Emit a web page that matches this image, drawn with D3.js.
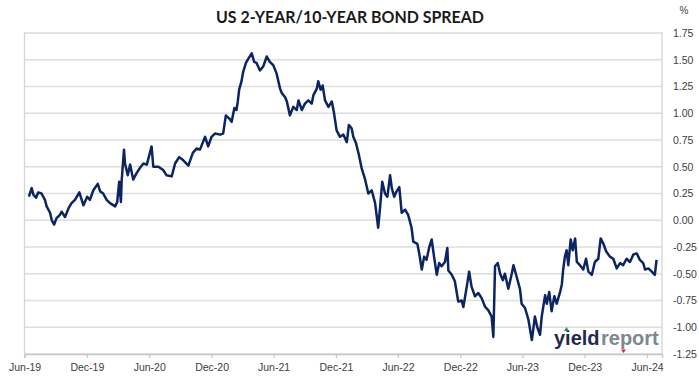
<!DOCTYPE html>
<html>
<head>
<meta charset="utf-8">
<script src="https://cdn.jsdelivr.net/npm/d3@7"></script>
<style>
  body { margin: 0; background: #fff; }
  svg { display: block; }
</style>
</head>
<body>
<svg id="spread_chart" width="699" height="385"></svg>
<script>
// values
const dates = [
  "2019-06-14","2019-06-22","2019-06-27","2019-07-05","2019-07-11","2019-07-21","2019-07-31","2019-08-05","2019-08-15","2019-08-20",
  "2019-08-27","2019-09-03","2019-09-13","2019-09-18","2019-09-28","2019-10-08","2019-10-17","2019-10-27","2019-11-09","2019-11-21",
  "2019-12-02","2019-12-10","2019-12-20","2020-01-02","2020-01-09","2020-01-18","2020-01-28","2020-02-07","2020-02-22","2020-02-28",
  "2020-03-05","2020-03-10","2020-03-12","2020-03-19","2020-03-22","2020-03-30","2020-04-06","2020-04-15","2020-04-25","2020-05-05",
  "2020-05-15","2020-05-25","2020-06-08","2020-06-13","2020-06-28","2020-07-12","2020-07-22","2020-08-06","2020-08-16","2020-08-28",
  "2020-09-09","2020-09-24","2020-10-07","2020-10-18","2020-10-28","2020-11-12","2020-11-21","2020-12-01","2020-12-11","2020-12-26",
  "2021-01-04","2021-01-12","2021-01-22","2021-01-29","2021-02-06","2021-02-12","2021-02-16","2021-02-20","2021-02-27","2021-03-04",
  "2021-03-12","2021-03-19","2021-03-29","2021-04-05","2021-04-12","2021-04-22","2021-05-02","2021-05-12","2021-05-21","2021-05-31",
  "2021-06-10","2021-06-20","2021-06-25","2021-07-05","2021-07-10","2021-07-19","2021-07-29","2021-08-08","2021-08-13","2021-08-23",
  "2021-09-01","2021-09-11","2021-09-21","2021-09-26","2021-10-06","2021-10-10","2021-10-17","2021-10-23","2021-10-30","2021-11-09",
  "2021-11-19","2021-11-25","2021-12-03","2021-12-13","2021-12-23","2022-01-02","2022-01-08","2022-01-16","2022-01-21","2022-01-29",
  "2022-02-05","2022-02-15","2022-02-24","2022-03-06","2022-03-16","2022-03-26","2022-04-04","2022-04-09","2022-04-16","2022-04-24",
  "2022-05-01","2022-05-09","2022-05-14","2022-05-21","2022-05-28","2022-06-05","2022-06-12","2022-06-22","2022-07-01","2022-07-11",
  "2022-07-16","2022-07-28","2022-08-03","2022-08-10","2022-08-17","2022-08-24","2022-09-01","2022-09-08","2022-09-15","2022-09-23",
  "2022-09-30","2022-10-07","2022-10-17","2022-10-24","2022-10-27","2022-11-06","2022-11-15","2022-11-25","2022-12-05","2022-12-10",
  "2022-12-20","2022-12-27","2023-01-03","2023-01-13","2023-01-23","2023-02-02","2023-02-12","2023-02-21","2023-03-03","2023-03-08",
  "2023-03-13","2023-03-21","2023-03-28","2023-04-05","2023-04-11","2023-04-21","2023-05-01","2023-05-06","2023-05-13","2023-05-25",
  "2023-05-30","2023-06-09","2023-06-19","2023-06-29","2023-07-08","2023-07-15","2023-07-23","2023-07-28","2023-08-07","2023-08-12",
  "2023-08-19","2023-08-26","2023-09-03","2023-09-10","2023-09-20","2023-09-25","2023-09-29","2023-10-04","2023-10-09","2023-10-14",
  "2023-10-21","2023-10-27","2023-11-03","2023-11-08","2023-11-17","2023-11-27","2023-12-05","2023-12-12","2023-12-22","2023-12-31",
  "2024-01-10","2024-01-17","2024-01-25","2024-02-02","2024-02-13","2024-02-23","2024-03-04","2024-03-14","2024-03-23","2024-04-02",
  "2024-04-12","2024-04-22","2024-05-02","2024-05-11","2024-05-21","2024-05-26","2024-06-05","2024-06-15","2024-06-24","2024-06-29"
];
const spread = [
  0.22, 0.30, 0.24, 0.21, 0.26, 0.25, 0.19, 0.13, 0.07, 0.00,
  -0.04, 0.02, 0.05, 0.08, 0.03, 0.11, 0.16, 0.19, 0.26, 0.14,
  0.22, 0.19, 0.28, 0.34, 0.27, 0.25, 0.19, 0.16, 0.13, 0.17,
  0.36, 0.17, 0.36, 0.66, 0.53, 0.42, 0.52, 0.38, 0.44, 0.49,
  0.53, 0.52, 0.69, 0.50, 0.50, 0.47, 0.42, 0.41, 0.53, 0.59,
  0.56, 0.51, 0.63, 0.67, 0.66, 0.78, 0.69, 0.78, 0.81, 0.80,
  0.81, 0.98, 0.95, 0.92, 1.05, 1.03, 1.11, 1.22, 1.30, 1.39,
  1.47, 1.51, 1.56, 1.48, 1.47, 1.40, 1.44, 1.53, 1.48, 1.45,
  1.37, 1.23, 1.19, 1.15, 1.11, 0.98, 1.06, 1.03, 1.12, 1.03,
  1.09, 1.12, 1.09, 1.17, 1.23, 1.30, 1.22, 1.26, 1.12, 1.06,
  1.11, 1.01, 0.84, 0.78, 0.80, 0.73, 0.89, 0.86, 0.78, 0.72,
  0.63, 0.48, 0.39, 0.25, 0.28, 0.16, -0.07, 0.10, 0.36, 0.25,
  0.22, 0.42, 0.30, 0.22, 0.27, 0.31, 0.07, 0.10, 0.05, -0.07,
  -0.20, -0.22, -0.32, -0.46, -0.34, -0.37, -0.25, -0.18, -0.34, -0.51,
  -0.40, -0.43, -0.39, -0.26, -0.47, -0.51, -0.57, -0.76, -0.75, -0.81,
  -0.62, -0.48, -0.62, -0.71, -0.68, -0.73, -0.81, -0.84, -0.90, -1.09,
  -0.43, -0.40, -0.50, -0.56, -0.50, -0.64, -0.50, -0.42, -0.50, -0.64,
  -0.78, -0.82, -0.93, -1.12, -0.90, -1.00, -1.07, -0.90, -0.70, -0.78,
  -0.67, -0.85, -0.71, -0.78, -0.67, -0.60, -0.46, -0.34, -0.28, -0.42,
  -0.18, -0.28, -0.17, -0.39, -0.42, -0.46, -0.36, -0.48, -0.51, -0.39,
  -0.36, -0.17, -0.22, -0.29, -0.34, -0.36, -0.45, -0.40, -0.42, -0.36,
  -0.39, -0.32, -0.31, -0.37, -0.40, -0.46, -0.45, -0.48, -0.51, -0.37
];
const yTicks = [1.75, 1.50, 1.25, 1.00, 0.75, 0.50, 0.25, 0.00, -0.25, -0.50, -0.75, -1.00, -1.25];
const xTickDates = ["2019-06-01","2019-12-01","2020-06-01","2020-12-01","2021-06-01","2021-12-01",
                    "2022-06-01","2022-12-01","2023-06-01","2023-12-01","2024-06-01"];
const xDomain = ["2019-06-01", "2024-07-15"];

let chart_svg, chart_width, chart_height, chart_margin, chart_innerWidth, chart_innerHeight;

document.addEventListener('DOMContentLoaded', function() {
    chart_svg = d3.select('#spread_chart');
    chart_width = +chart_svg.attr('width');
    chart_height = +chart_svg.attr('height');
    chart_margin = { top: 33, bottom: 31, right: 37, left: 24.5 };
    chart_innerWidth = chart_width - chart_margin.left - chart_margin.right;
    chart_innerHeight = chart_height - chart_margin.top - chart_margin.bottom;
    draw_spread_chart();
});

function draw_spread_chart() {
    const parse = d3.timeParse("%Y-%m-%d");
    const data = dates.map((d, i) => ({ date: parse(d), value: spread[i] }));
    const fmt = d3.formatLocale({ decimal: ".", thousands: ",", grouping: [3], currency: ["", ""], minus: "-" }).format(".2f");
    const labelFont = "'Liberation Sans', Arial, sans-serif";

    const xScale = d3.scaleTime()
        .domain(xDomain.map(parse))
        .range([0, chart_innerWidth]);
    const yScale = d3.scaleLinear()
        .domain([-1.25, 1.75])
        .range([chart_innerHeight, 0]);

    const g = chart_svg.append('g')
        .attr('transform', 'translate(' + chart_margin.left + ', ' + chart_margin.top + ')');

    // horizontal gridlines
    g.append('g')
        .selectAll('line')
        .data(yTicks.filter(t => t < 1.75 && t > -1.25))
        .enter()
        .append('line')
        .attr('x1', 0)
        .attr('x2', chart_innerWidth)
        .attr('y1', d => yScale(d))
        .attr('y2', d => yScale(d))
        .attr('stroke', '#dedede')
        .attr('stroke-width', 1.3);

    // plot frame
    g.append('rect')
        .attr('x', 0)
        .attr('y', 0)
        .attr('width', chart_innerWidth)
        .attr('height', chart_innerHeight)
        .attr('fill', 'none')
        .attr('stroke', '#d4d4d4')
        .attr('stroke-width', 1.3);

    // bottom axis
    const xAxis = d3.axisBottom(xScale)
        .tickValues(xTickDates.map(parse))
        .tickFormat(d3.timeFormat("%b-%y"))
        .tickSize(4)
        .tickPadding(6);
    const xg = g.append('g')
        .attr('transform', `translate(0,${chart_innerHeight})`)
        .call(xAxis);
    xg.select('.domain').attr('stroke', '#c8c8c8').attr('stroke-width', 1.3);
    xg.selectAll('.tick line').attr('stroke', '#c8c8c8').attr('stroke-width', 1.3);
    xg.selectAll('text')
        .attr('fill', '#404040')
        .style('font-family', labelFont)
        .style('font-size', '10.5px');

    // right axis labels (no tick marks)
    const yAxis = d3.axisRight(yScale)
        .tickValues(yTicks)
        .tickFormat(fmt)
        .tickSize(0)
        .tickPadding(11);
    const yg = g.append('g')
        .attr('transform', `translate(${chart_innerWidth},0)`)
        .call(yAxis);
    yg.select('.domain').remove();
    yg.selectAll('text')
        .attr('fill', '#404040')
        .style('font-family', labelFont)
        .style('font-size', '10.5px');

    g.append('text')
        .attr('x', chart_innerWidth + 22)
        .attr('y', -19)
        .attr('text-anchor', 'middle')
        .attr('fill', '#404040')
        .style('font-family', labelFont)
        .style('font-size', '10px')
        .text('%');

    // the series
    const line = d3.line()
        .x(d => xScale(d.date))
        .y(d => yScale(d.value));
    g.append('path')
        .datum(data)
        .attr('fill', 'none')
        .attr('stroke', '#0b2462')
        .attr('stroke-width', 2.5)
        .attr('stroke-linejoin', 'round')
        .attr('d', line);

    // title
    chart_svg.append('text')
        .attr('x', 350)
        .attr('y', 23)
        .attr('text-anchor', 'middle')
        .attr('fill', '#1a1a1a')
        .attr('textLength', 268)
        .attr('lengthAdjust', 'spacingAndGlyphs')
        .style('font-family', "Lato, 'Open Sans', sans-serif")
        .style('font-weight', 'bold')
        .style('font-size', '17px')
        .text('US 2-YEAR/10-YEAR BOND SPREAD');

    // yieldreport mark, two words side by side
    const logoWords = [
        { text: 'yield', x: 554, fill: '#1f2a4e' },
        { text: 'report', x: 601, fill: '#7d8795' }
    ];
    chart_svg.append('g')
        .selectAll('text')
        .data(logoWords)
        .enter()
        .append('text')
        .attr('x', d => d.x)
        .attr('y', 345)
        .attr('fill', d => d.fill)
        .style('font-family', "'Liberation Sans', Arial, sans-serif")
        .style('font-weight', 'bold')
        .style('font-size', '20px')
        .text(d => d.text);
    chart_svg.append('path')
        .attr('d', 'M564,331 L566.5,327 L569,331 Z')
        .attr('fill', '#2e8b3e');
    chart_svg.append('path')
        .attr('d', 'M621,349.5 L626,349.5 L623.5,353 Z')
        .attr('fill', '#e02020');
}
</script>
</body>
</html>
